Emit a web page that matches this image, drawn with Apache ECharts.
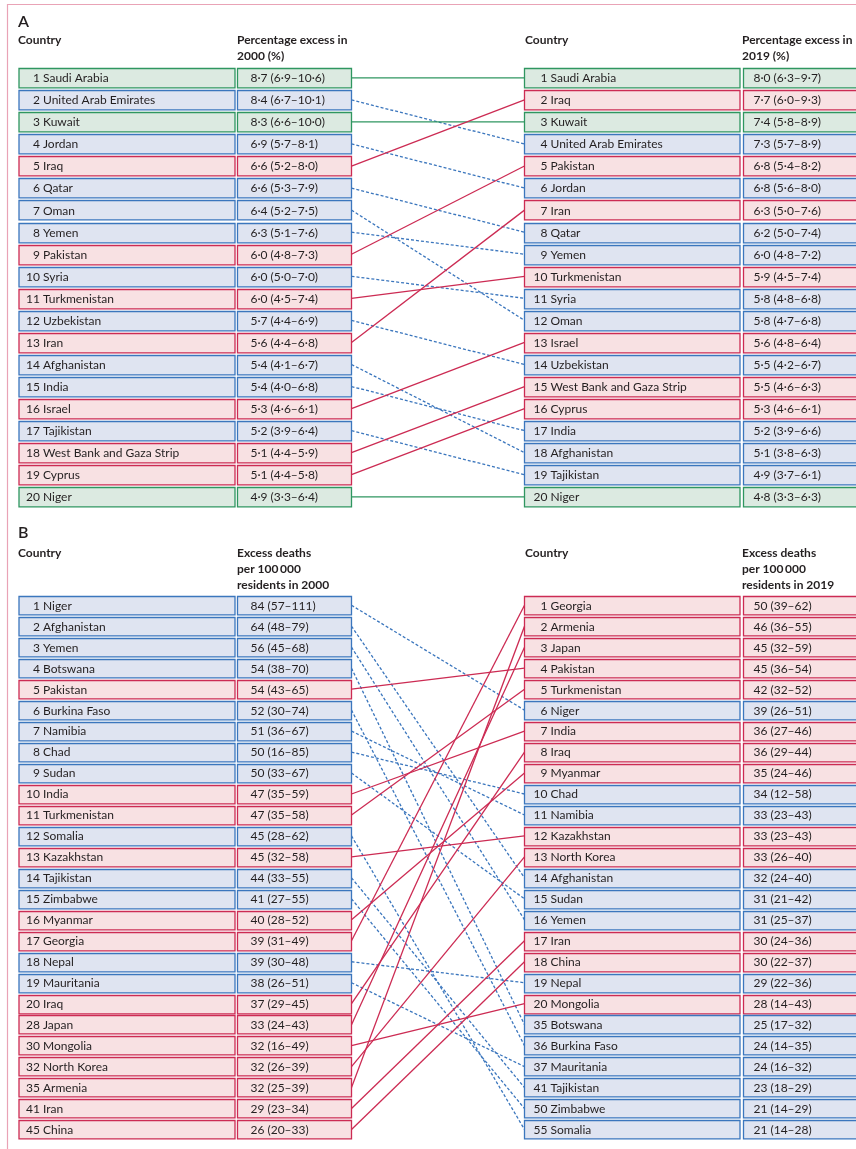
<!DOCTYPE html>
<html><head><meta charset="utf-8">
<script src="https://cdn.jsdelivr.net/npm/echarts@6/dist/echarts.min.js"></script>
<style>html,body{margin:0;padding:0;background:#fff;overflow:hidden}#c{width:856px;height:1149px}</style>
</head><body><div id="c"></div>
<script>
// ---------- DATA ----------
const countriesA2000 = ['Saudi Arabia','United Arab Emirates','Kuwait','Jordan','Iraq','Qatar','Oman','Yemen','Pakistan','Syria','Turkmenistan','Uzbekistan','Iran','Afghanistan','India','Israel','Tajikistan','West Bank and Gaza Strip','Cyprus','Niger'];
const ranksA2000 = [1,2,3,4,5,6,7,8,9,10,11,12,13,14,15,16,17,18,19,20];
const pctA2000 = [8.7,8.4,8.3,6.9,6.6,6.6,6.4,6.3,6.0,6.0,6.0,5.7,5.6,5.4,5.4,5.3,5.2,5.1,5.1,4.9];
const pctLowA2000 = [6.9,6.7,6.6,5.7,5.2,5.3,5.2,5.1,4.8,5.0,4.5,4.4,4.4,4.1,4.0,4.6,3.9,4.4,4.4,3.3];
const pctHighA2000 = [10.6,10.1,10.0,8.1,8.0,7.9,7.5,7.6,7.3,7.0,7.4,6.9,6.8,6.7,6.8,6.1,6.4,5.9,5.8,6.4];

const countriesA2019 = ['Saudi Arabia','Iraq','Kuwait','United Arab Emirates','Pakistan','Jordan','Iran','Qatar','Yemen','Turkmenistan','Syria','Oman','Israel','Uzbekistan','West Bank and Gaza Strip','Cyprus','India','Afghanistan','Tajikistan','Niger'];
const ranksA2019 = [1,2,3,4,5,6,7,8,9,10,11,12,13,14,15,16,17,18,19,20];
const pctA2019 = [8.0,7.7,7.4,7.3,6.8,6.8,6.3,6.2,6.0,5.9,5.8,5.8,5.6,5.5,5.5,5.3,5.2,5.1,4.9,4.8];
const pctLowA2019 = [6.3,6.0,5.8,5.7,5.4,5.6,5.0,5.0,4.8,4.5,4.8,4.7,4.8,4.2,4.6,4.6,3.9,3.8,3.7,3.3];
const pctHighA2019 = [9.7,9.3,8.9,8.9,8.2,8.0,7.6,7.4,7.2,7.4,6.8,6.8,6.4,6.7,6.3,6.1,6.6,6.3,6.1,6.3];

const countriesB2000 = ['Niger','Afghanistan','Yemen','Botswana','Pakistan','Burkina Faso','Namibia','Chad','Sudan','India','Turkmenistan','Somalia','Kazakhstan','Tajikistan','Zimbabwe','Myanmar','Georgia','Nepal','Mauritania','Iraq','Japan','Mongolia','North Korea','Armenia','Iran','China'];
const ranksB2000 = [1,2,3,4,5,6,7,8,9,10,11,12,13,14,15,16,17,18,19,20,28,30,32,35,41,45];
const deathsB2000 = [84,64,56,54,54,52,51,50,50,47,47,45,45,44,41,40,39,39,38,37,33,32,32,32,29,26];
const deathsLowB2000 = [57,48,45,38,43,30,36,16,33,35,35,28,32,33,27,28,31,30,26,29,24,16,26,25,23,20];
const deathsHighB2000 = [111,79,68,70,65,74,67,85,67,59,58,62,58,55,55,52,49,48,51,45,43,49,39,39,34,33];

const countriesB2019 = ['Georgia','Armenia','Japan','Pakistan','Turkmenistan','Niger','India','Iraq','Myanmar','Chad','Namibia','Kazakhstan','North Korea','Afghanistan','Sudan','Yemen','Iran','China','Nepal','Mongolia','Botswana','Burkina Faso','Mauritania','Tajikistan','Zimbabwe','Somalia'];
const ranksB2019 = [1,2,3,4,5,6,7,8,9,10,11,12,13,14,15,16,17,18,19,20,35,36,37,41,50,55];
const deathsB2019 = [50,46,45,45,42,39,36,36,35,34,33,33,33,32,31,31,30,30,29,28,25,24,24,23,21,21];
const deathsLowB2019 = [39,36,32,36,32,26,27,29,24,12,23,23,26,24,21,25,24,22,22,14,17,14,16,18,14,14];
const deathsHighB2019 = [62,55,59,54,52,51,46,44,46,58,43,43,40,40,42,37,36,37,36,43,32,35,32,29,29,28];

const headersA = ['Country', 'Percentage excess in\n2000 (%)', 'Country', 'Percentage excess in\n2019 (%)'];
const headersB = ['Country', 'Excess deaths\nper 100\u2009000\nresidents in 2000', 'Country', 'Excess deaths\nper 100\u2009000\nresidents in 2019'];

// ---------- STYLE / LAYOUT ----------
const FONT = 'Lato, sans-serif';
const FS = 12;
const TXT = '#231f20';
const STYLE = {
  same: {stroke:'#2f9660', fill:'#dceae1', dash:null},
  up:   {stroke:'#cc2b53', fill:'#f8e1e3', dash:null},
  down: {stroke:'#3b76bd', fill:'#dfe4f1', dash:[3,2]}
};
const COL = {lName0:19, lName1:235, lVal0:237.5, lVal1:351.5, rName0:524.5, rName1:740, rVal0:743.5, rVal1:900};

const fmt1 = v => v.toFixed(1).replace('.', '\u00b7');
const pctText = (e,l,h) => `${fmt1(e)} (${fmt1(l)}\u2013${fmt1(h)})`;
const intText = (e,l,h) => `${e} (${l}\u2013${h})`;

function status(c, rankThis, isLeft, otherCountries, otherRanks) {
  const rOther = otherRanks[otherCountries.indexOf(c)];
  const r2000 = isLeft ? rankThis : rOther;
  const r2019 = isLeft ? rOther : rankThis;
  return r2019 < r2000 ? 'up' : (r2019 > r2000 ? 'down' : 'same');
}

function boxSeries(gridIndex, countries, ranks, texts, isLeft, otherCountries, otherRanks) {
  const x0 = isLeft ? COL.lName0 : COL.rName0, x1 = isLeft ? COL.lName1 : COL.rName1;
  const v0 = isLeft ? COL.lVal0 : COL.rVal0, v1 = isLeft ? COL.lVal1 : COL.rVal1;
  const valOff = isLeft ? 13 : 10;
  const rankOff = isLeft ? 21 : 23;
  return {
    type:'custom', coordinateSystem:'cartesian2d', xAxisIndex:gridIndex, yAxisIndex:gridIndex, clip:false,
    data: countries.map((c,i)=>[0,i]),
    renderItem: (params, api) => {
      const i = params.dataIndex, row = api.value(1);
      const band = api.size([0,1])[1];
      const h = band*0.875;
      const a = api.coord([x0,row]), b = api.coord([x1,row]), va = api.coord([v0,row]), vb = api.coord([v1,row]);
      const st = STYLE[status(countries[i], ranks[i], isLeft, otherCountries, otherRanks)];
      const y = Math.round(a[1]-h/2)+0.5;
      const font = {fontFamily:FONT, fontSize:FS, fill:TXT, textVerticalAlign:'middle'};
      return {type:'group', children:[
        {type:'rect', shape:{x:a[0], y:y, width:b[0]-a[0], height:h}, style:{fill:st.fill, stroke:st.stroke, lineWidth:1.3}},
        {type:'rect', shape:{x:va[0], y:y, width:vb[0]-va[0], height:h}, style:{fill:st.fill, stroke:st.stroke, lineWidth:1.3}},
        {type:'text', x:a[0]+rankOff, y:a[1]+0.5, style:Object.assign({text:String(ranks[i]), textAlign:'right'}, font)},
        {type:'text', x:a[0]+rankOff+3, y:a[1]+0.5, style:Object.assign({text:countries[i], textAlign:'left'}, font)},
        {type:'text', x:va[0]+valOff, y:a[1]+0.5, style:Object.assign({text:texts[i], textAlign:'left'}, font)}
      ]};
    }
  };
}

function lineSeries(gridIndex, cL, rL, cR, rR) {
  return {
    type:'custom', coordinateSystem:'cartesian2d', xAxisIndex:gridIndex, yAxisIndex:gridIndex, clip:false, z:1,
    data: cL.map((c,i)=>[i, cR.indexOf(c)]),
    renderItem: (params, api) => {
      const i = params.dataIndex;
      const p1 = api.coord([COL.lVal1, api.value(0)]);
      const p2 = api.coord([COL.rName0, api.value(1)]);
      const st = STYLE[status(cL[i], rL[i], true, cR, rR)];
      return {type:'line', shape:{x1:p1[0], y1:p1[1], x2:p2[0], y2:p2[1]},
        style:{stroke:st.stroke, lineWidth:1.3, lineDash:st.dash || undefined, fill:null}};
    }
  };
}

const textsA2000 = pctA2000.map((v,i)=>pctText(v,pctLowA2000[i],pctHighA2000[i]));
const textsA2019 = pctA2019.map((v,i)=>pctText(v,pctLowA2019[i],pctHighA2019[i]));
const textsB2000 = deathsB2000.map((v,i)=>intText(v,deathsLowB2000[i],deathsHighB2000[i]));
const textsB2019 = deathsB2019.map((v,i)=>intText(v,deathsLowB2019[i],deathsHighB2019[i]));

const chart = echarts.init(document.getElementById('c'));
const hdr = (txt, x, y) => ({type:'text', x:x, y:y, style:{text:txt, fontFamily:FONT, fontSize:12, fontWeight:'bold', fill:TXT, lineHeight:16, textVerticalAlign:'top'}});
chart.setOption({
  animation:false,
  grid:[
    {left:0, width:856, top:66.8, height:441},
    {left:0, width:856, top:594.8, height:545.2}
  ],
  xAxis:[
    {gridIndex:0, type:'value', min:0, max:856, show:false},
    {gridIndex:1, type:'value', min:0, max:856, show:false}
  ],
  yAxis:[
    {gridIndex:0, type:'category', inverse:true, data:countriesA2000.map((c,i)=>i), show:false},
    {gridIndex:1, type:'category', inverse:true, data:countriesB2000.map((c,i)=>i), show:false}
  ],
  graphic:[
    {type:'rect', shape:{x:7.5, y:4.5, width:1000, height:1300}, style:{fill:null, stroke:'#e9a3b6', lineWidth:1.2}, silent:true},
    {type:'text', x:18, y:14, style:{text:'A', fontFamily:FONT, fontSize:16, fontWeight:600, fill:TXT}},
    hdr(headersA[0], 18, 32), hdr(headersA[1], 237, 32), hdr(headersA[2], 525, 32), hdr(headersA[3], 742, 32),
    {type:'text', x:18, y:525, style:{text:'B', fontFamily:FONT, fontSize:16, fontWeight:600, fill:TXT}},
    hdr(headersB[0], 18, 545), hdr(headersB[1], 237, 545), hdr(headersB[2], 525, 545), hdr(headersB[3], 742, 545)
  ],
  series:[
    lineSeries(0, countriesA2000, ranksA2000, countriesA2019, ranksA2019),
    boxSeries(0, countriesA2000, ranksA2000, textsA2000, true, countriesA2019, ranksA2019),
    boxSeries(0, countriesA2019, ranksA2019, textsA2019, false, countriesA2000, ranksA2000),
    lineSeries(1, countriesB2000, ranksB2000, countriesB2019, ranksB2019),
    boxSeries(1, countriesB2000, ranksB2000, textsB2000, true, countriesB2019, ranksB2019),
    boxSeries(1, countriesB2019, ranksB2019, textsB2019, false, countriesB2000, ranksB2000)
  ]
});
</script></body></html>
